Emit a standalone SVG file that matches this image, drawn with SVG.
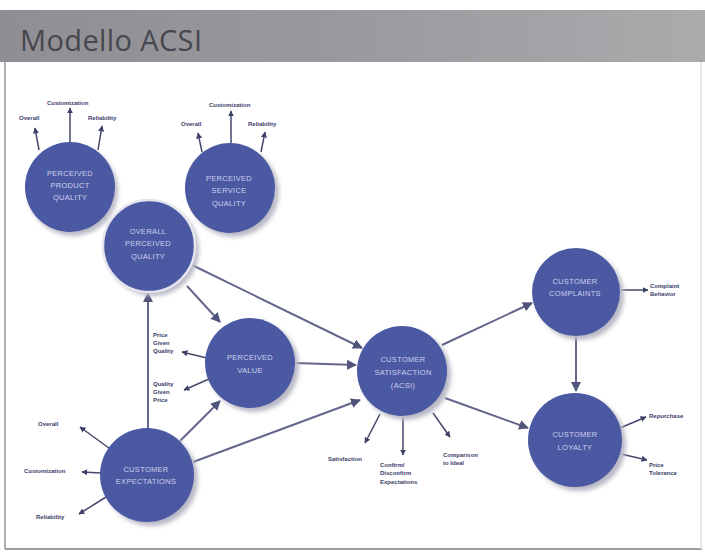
<svg xmlns="http://www.w3.org/2000/svg" width="705" height="556" viewBox="0 0 705 556">
<defs>
<linearGradient id="bar" x1="0" y1="0" x2="1" y2="0">
<stop offset="0" stop-color="#8e8e93"/>
<stop offset="0.5" stop-color="#9a9a9e"/>
<stop offset="1" stop-color="#ababae"/>
</linearGradient>
<filter id="blur" x="-20%" y="-20%" width="140%" height="140%"><feGaussianBlur stdDeviation="2"/></filter>
<marker id="ah" viewBox="0 0 10 10" refX="9" refY="5" markerWidth="5" markerHeight="5" orient="auto" markerUnits="strokeWidth">
<path d="M0,0 L10,5 L0,10 z" fill="#50547a"/>
</marker>
<marker id="as" viewBox="0 0 10 10" refX="9" refY="5" markerWidth="4" markerHeight="4" orient="auto" markerUnits="strokeWidth">
<path d="M0,0 L10,5 L0,10 z" fill="#3c3f66"/>
</marker>
</defs>
<style>
.node{fill:#4b58a2}
.ring{stroke:#e4e5ee;stroke-width:2.5}
.sh{fill:#b9bac6;filter:url(#blur)}
.nt{font-family:"Liberation Sans",Arial,sans-serif;font-size:7.5px;fill:#ccd0ee;text-anchor:middle;letter-spacing:0.3px}
.lb{font-family:"Liberation Sans",Arial,sans-serif;font-size:6px;font-weight:bold;fill:#3b3e6a}
.c{stroke:#62668a;stroke-width:2;fill:none;marker-end:url(#ah)}
.s{stroke:#45486c;stroke-width:1.5;fill:none;marker-end:url(#as)}
</style>
<rect x="0" y="0" width="705" height="556" fill="#ffffff"/>
<rect x="0" y="10" width="705" height="52" fill="url(#bar)"/>
<text x="20" y="51" font-family="'Open Sans','Liberation Sans',sans-serif" font-size="29" fill="#47474f" textLength="182">Modello ACSI</text>
<line x1="5" y1="62" x2="5" y2="549" stroke="#b0b0b4" stroke-width="2"/>
<line x1="5" y1="549" x2="702" y2="549" stroke="#9d9da2" stroke-width="2"/>
<line x1="701" y1="62" x2="701" y2="549" stroke="#e2e2e4" stroke-width="1.5"/>

<g id="connectors">
<line class="c" x1="187" y1="286" x2="220" y2="322"/>
<line class="c" x1="192" y1="265" x2="362" y2="348"/>
<line class="c" x1="148" y1="428" x2="148" y2="293"/>
<line class="c" x1="180" y1="441" x2="220" y2="401"/>
<line class="c" x1="193" y1="462" x2="360" y2="400"/>
<line class="c" x1="295" y1="363" x2="356" y2="365"/>
<line class="c" x1="442" y1="345" x2="532" y2="303"/>
<line class="c" x1="445" y1="398" x2="528" y2="428"/>
<line class="c" x1="576" y1="336" x2="576" y2="391"/>
<line class="s" x1="39" y1="150" x2="35" y2="128"/>
<line class="s" x1="70" y1="142" x2="70" y2="108"/>
<line class="s" x1="98" y1="150" x2="102" y2="126"/>
<line class="s" x1="202" y1="152" x2="198" y2="133"/>
<line class="s" x1="231" y1="143" x2="231" y2="111"/>
<line class="s" x1="261" y1="152" x2="265" y2="132"/>
<line class="s" x1="207" y1="358" x2="182" y2="352"/>
<line class="s" x1="209" y1="379" x2="184" y2="390"/>
<line class="s" x1="113" y1="451" x2="80" y2="427"/>
<line class="s" x1="101" y1="473" x2="82" y2="472"/>
<line class="s" x1="106" y1="497" x2="79" y2="514"/>
<line class="s" x1="380" y1="414" x2="365" y2="443"/>
<line class="s" x1="403" y1="418" x2="403" y2="455"/>
<line class="s" x1="433" y1="413" x2="450" y2="437"/>
<line class="s" x1="621" y1="290" x2="648" y2="290"/>
<line class="s" x1="620" y1="428" x2="646" y2="417"/>
<line class="s" x1="621" y1="454" x2="647" y2="460"/>
</g>

<g id="ppq">
<circle class="sh" cx="73" cy="191" r="45"/>
<circle class="node" cx="70" cy="187" r="45"/>
<text class="nt" x="70" y="176">PERCEIVED</text>
<text class="nt" x="70" y="188">PRODUCT</text>
<text class="nt" x="70" y="200">QUALITY</text>
<text class="lb" x="19" y="120">Overall</text>
<text class="lb" x="47" y="105">Customization</text>
<text class="lb" x="88" y="120">Reliability</text>
</g>
<g id="psq">
<circle class="sh" cx="234" cy="192" r="45"/>
<circle class="node" cx="230" cy="188" r="45"/>
<text class="nt" x="229" y="181">PERCEIVED</text>
<text class="nt" x="229" y="193">SERVICE</text>
<text class="nt" x="229" y="206">QUALITY</text>
<text class="lb" x="181" y="126">Overall</text>
<text class="lb" x="209" y="107">Customization</text>
<text class="lb" x="248" y="126">Reliability</text>
</g>
<g id="opq">
<circle class="sh" cx="153" cy="250" r="46"/>
<circle class="node ring" cx="149" cy="246" r="46"/>
<text class="nt" x="148" y="234">OVERALL</text>
<text class="nt" x="148" y="246">PERCEIVED</text>
<text class="nt" x="148" y="259">QUALITY</text>
</g>
<g id="pv">
<circle class="sh" cx="254" cy="367" r="45"/>
<circle class="node" cx="250" cy="363" r="45"/>
<text class="nt" x="250" y="360">PERCEIVED</text>
<text class="nt" x="250" y="373">VALUE</text>
<text class="lb" x="153" y="337">Price</text>
<text class="lb" x="153" y="345">Given</text>
<text class="lb" x="153" y="353">Quality</text>
<text class="lb" x="153" y="386">Quality</text>
<text class="lb" x="153" y="394">Given</text>
<text class="lb" x="153" y="402">Price</text>
</g>
<g id="cs">
<circle class="sh" cx="406" cy="375" r="45"/>
<circle class="node" cx="402" cy="371" r="45"/>
<text class="nt" x="403" y="362">CUSTOMER</text>
<text class="nt" x="403" y="375">SATISFACTION</text>
<text class="nt" x="403" y="388">(ACSI)</text>
<text class="lb" x="328" y="461">Satisfaction</text>
<text class="lb" x="380" y="467">Confirm/</text>
<text class="lb" x="380" y="475">Disconfirm</text>
<text class="lb" x="380" y="484">Expectations</text>
<text class="lb" x="443" y="457">Comparison</text>
<text class="lb" x="443" y="465">to Ideal</text>
</g>
<g id="cc">
<circle class="sh" cx="580" cy="296" r="44"/>
<circle class="node" cx="576" cy="292" r="44"/>
<text class="nt" x="575" y="284">CUSTOMER</text>
<text class="nt" x="575" y="296">COMPLAINTS</text>
<text class="lb" x="650" y="288">Complaint</text>
<text class="lb" x="650" y="296">Behavior</text>
</g>
<g id="cl">
<circle class="sh" cx="579" cy="444" r="47"/>
<circle class="node" cx="575" cy="440" r="47"/>
<text class="nt" x="575" y="437">CUSTOMER</text>
<text class="nt" x="575" y="450">LOYALTY</text>
<text class="lb" x="649" y="418">Repurchase</text>
<text class="lb" x="649" y="467">Price</text>
<text class="lb" x="649" y="475">Tolerance</text>
</g>
<g id="ce">
<circle class="sh" cx="151" cy="479" r="47"/>
<circle class="node" cx="147" cy="475" r="47"/>
<text class="nt" x="146" y="472">CUSTOMER</text>
<text class="nt" x="146" y="484">EXPECTATIONS</text>
<text class="lb" x="38" y="426">Overall</text>
<text class="lb" x="24" y="473">Customization</text>
<text class="lb" x="36" y="519">Reliability</text>
</g>
</svg>
